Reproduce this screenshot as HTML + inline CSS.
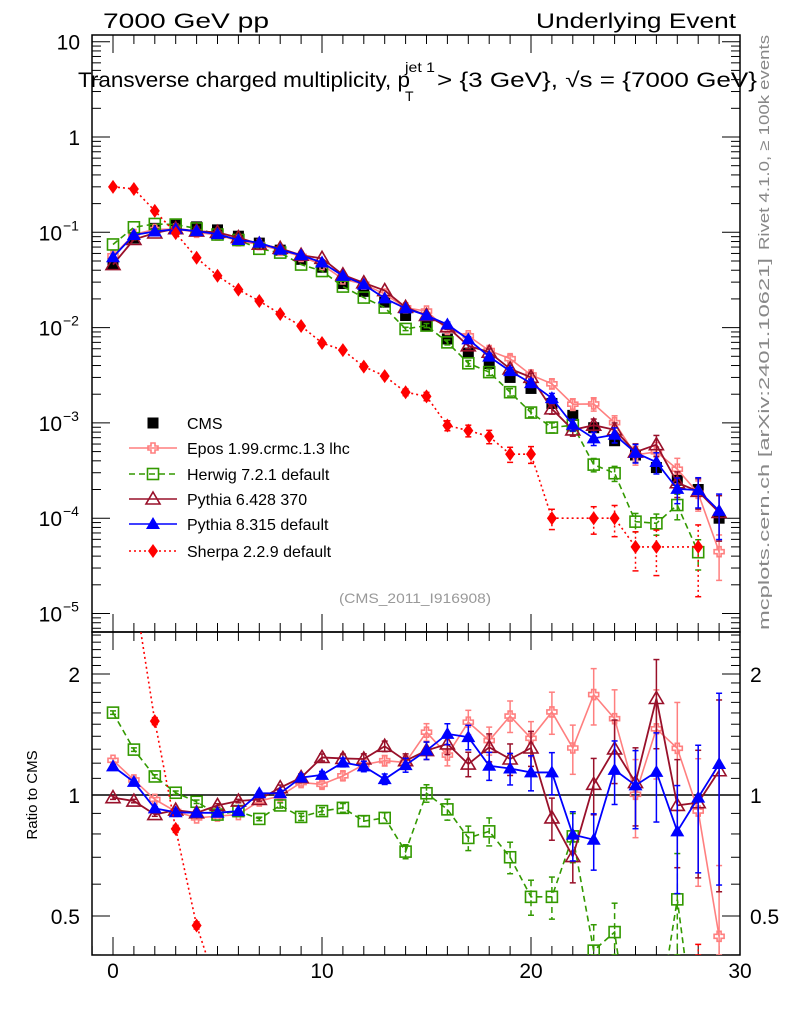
<!DOCTYPE html>
<html><head><meta charset="utf-8"><style>
html,body{margin:0;padding:0;background:#fff;width:786px;height:1024px;overflow:hidden;}
svg{display:block;font-family:"Liberation Sans",sans-serif;}
</style></head><body>
<svg id="c" width="786" height="1024" viewBox="0 0 786 1024">
<defs>
<clipPath id="clipMain"><rect x="92" y="35" width="648" height="597"/></clipPath>
<clipPath id="clipRatio"><rect x="92" y="632" width="648" height="323"/></clipPath>
</defs>
<g id="axes"></g>
<g id="mainMarks" clip-path="url(#clipMain)"></g>
<g id="ratioMarks" clip-path="url(#clipRatio)"></g>
<g id="legend"></g>
<text x="103" y="28" font-size="21" textLength="166" lengthAdjust="spacingAndGlyphs">7000 GeV pp</text>
<text x="736" y="28" font-size="21" text-anchor="end" textLength="200" lengthAdjust="spacingAndGlyphs">Underlying Event</text>
<text x="78" y="87" font-size="21" textLength="332" lengthAdjust="spacingAndGlyphs">Transverse charged multiplicity, p</text>
<text x="405" y="72" font-size="14" textLength="30" lengthAdjust="spacingAndGlyphs">jet 1</text>
<text x="405" y="101" font-size="14">T</text>
<text x="437" y="87" font-size="21" textLength="320" lengthAdjust="spacingAndGlyphs">&gt; {3 GeV}, √s = {7000 GeV}</text>
<text transform="translate(769,250) rotate(-90)" font-size="15" fill="#888" textLength="215" lengthAdjust="spacingAndGlyphs">Rivet 4.1.0, ≥ 100k events</text>
<text transform="translate(769,630) rotate(-90)" font-size="15" fill="#888" textLength="372" lengthAdjust="spacingAndGlyphs">mcplots.cern.ch [arXiv:2401.10621]</text>
<text x="415" y="603" font-size="14" fill="#999" text-anchor="middle" textLength="152" lengthAdjust="spacingAndGlyphs">(CMS_2011_I916908)</text>
<text transform="translate(37,795) rotate(-90)" font-size="15" text-anchor="middle">Ratio to CMS</text>
</svg>
<script>
const xs = [0,1,2,3,4,5,6,7,8,9,10,11,12,13,14,15,16,17,18,19,20,21,22,23,24,25,26,27,28,29];
const cms = [0.0465,0.087,0.11,0.119,0.114,0.106,0.091,0.077,0.065,0.052,0.043,0.029,0.024,0.0185,0.0134,0.0104,0.0076,0.0054,0.0042,0.003,0.0023,0.0016,0.0012,0.00089,0.00065,0.00046,0.00034,0.00025,0.0002,0.0001];
const eposRatio = [1.22,1.09,0.975,0.91,0.877,0.886,0.894,0.966,0.994,1.074,1.063,1.116,1.19,1.217,1.205,1.433,1.257,1.518,1.366,1.572,1.384,1.609,1.309,1.778,1.548,1.004,1.461,1.307,0.912,0.445];
const herwigRatio = [1.603,1.297,1.112,1.013,0.962,0.894,0.912,0.872,0.942,0.882,0.912,0.929,0.861,0.877,0.723,1.01,0.921,0.782,0.812,0.70,0.558,0.558,0.789,0.41,0.456,0.2,0.26,0.55,0.22,null];
const py6Ratio = [0.985,0.966,0.894,0.917,0.903,0.942,0.966,0.975,1.043,1.105,1.24,1.233,1.229,1.322,1.217,1.29,1.34,1.194,1.314,1.229,1.309,0.877,0.703,1.063,1.302,1.074,1.738,0.942,0.957,1.149];
const py8Ratio = [1.178,1.078,0.926,0.906,0.903,0.903,0.912,1.01,1.01,1.105,1.122,1.205,1.178,1.095,1.187,1.29,1.419,1.393,1.182,1.164,1.138,1.138,0.797,0.774,1.155,1.057,1.142,0.812,0.985,1.194];
const sherpa = [0.3,0.285,0.168,0.098,0.054,0.035,0.025,0.019,0.0139,0.0104,0.0069,0.0058,0.0039,0.0031,0.0021,0.0019,0.00094,0.00083,0.00072,0.00047,0.00047,0.0001,null,0.0001,0.0001,0.00005,0.00005,null,0.00005,null];
const mcRelErr = [0.01,0.01,0.01,0.01,0.01,0.01,0.01,0.01,0.015,0.02,0.02,0.025,0.03,0.03,0.04,0.05,0.06,0.07,0.08,0.09,0.1,0.12,0.14,0.16,0.18,0.22,0.25,0.3,0.35,0.5];
const yMajorTicks = [10,1,0.1,0.01,0.001,0.0001,0.00001];
const yMajorLabels = ["10","1","10","10","10","10","10"];
const yMajorExp = ["","","−1","−2","−3","−4","−5"];
const ratioTicks = [2,1,0.5];
const ratioLabels = ["2","1","0.5"];
const xTicks = [0,10,20,30];

const NS="http://www.w3.org/2000/svg";
const L=92,R=740,T=35,MB=632,RB=955;
function X(v){return 113+(v)*20.9;}
function Y(v){return 137-95.3*Math.log10(v);}
function YR(r){return 795-121*Math.log2(r);}
function mk(tag,attrs,parent){const e=document.createElementNS(NS,tag);for(const k in attrs)e.setAttribute(k,attrs[k]);parent.appendChild(e);return e;}
const axes=document.getElementById('axes');
let fr=mk('rect',{x:L,y:T,width:R-L,height:MB-T,fill:'none',stroke:'#000','stroke-width':1.5},axes);


let fr2=mk('rect',{x:L,y:MB,width:R-L,height:RB-MB,fill:'none',stroke:'#000','stroke-width':1.5},axes);


for(let v=-1;v<=30;v++){
  const major=v%10===0, len=major?18:9;
  const x=X(v);
  [[MB,-1],[T,1],[RB,-1],[MB,1]].forEach(([y0,d])=>{
    mk('line',{x1:x,x2:x,y1:y0,y2:y0+d*len,stroke:'#000','stroke-width':1},axes);
  });
}
xTicks.forEach(v=>{
  const t=mk('text',{x:X(v),y:978,'font-size':21,'text-anchor':'middle'},axes);
  t.textContent=String(v);
  
  
});
for(let d=-6;d<=1;d++){
  for(let m=1;m<=9;m++){
    const v=m*Math.pow(10,d);const y=Y(v);
    if(y<T||y>MB)continue;
    const len=m===1?18:9;
    mk('line',{x1:L,x2:L+len,y1:y,y2:y,stroke:'#000','stroke-width':1},axes);
    mk('line',{x1:R,x2:R-len,y1:y,y2:y,stroke:'#000','stroke-width':1},axes);
  }
}
yMajorTicks.forEach((v,i)=>{
  const t=mk('text',{x:yMajorExp[i]?62:80,y:Y(v)+8,'font-size':21,'text-anchor':'end'},axes);
  t.textContent=yMajorLabels[i];
  
  
  if(yMajorExp[i]){
    const e=mk('text',{x:63,y:Y(v)-2,'font-size':14},axes);
    e.textContent=yMajorExp[i];
    
    
  }
});
for(let r=0.4;r<=2.55;r+=0.1){
  const y=YR(r); if(y<MB||y>RB)continue;
  const maj=Math.abs(r-Math.round(r))<0.01||Math.abs(r-0.5)<0.01;
  const len=maj?18:9;
  mk('line',{x1:L,x2:L+len,y1:y,y2:y,stroke:'#000','stroke-width':1},axes);
  mk('line',{x1:R,x2:R-len,y1:y,y2:y,stroke:'#000','stroke-width':1},axes);
}
ratioTicks.forEach((r,i)=>{
  const t=mk('text',{x:80,y:YR(r)+8,'font-size':21,'text-anchor':'end'},axes);
  t.textContent=ratioLabels[i];
  
  
  const t2=mk('text',{x:750,y:YR(r)+8,'font-size':21},axes);
  t2.textContent=ratioLabels[i];
  
  
});
const one=mk('line',{x1:L,x2:R,y1:YR(1),y2:YR(1),stroke:'#000','stroke-width':1.5},axes);



function marker(type,x,y,color,parent){
  let e;
  if(type==='sq') e=mk('rect',{x:x-5.5,y:y-5.5,width:11,height:11,fill:color},parent);
  else if(type==='osq') e=mk('rect',{x:x-5.5,y:y-5.5,width:11,height:11,fill:'none',stroke:color,'stroke-width':1.6},parent);
  else if(type==='cross'){const a=2,b=5;e=mk('polygon',{points:[[x-a,y-b],[x+a,y-b],[x+a,y-a],[x+b,y-a],[x+b,y+a],[x+a,y+a],[x+a,y+b],[x-a,y+b],[x-a,y+a],[x-b,y+a],[x-b,y-a],[x-a,y-a]].map(p=>p.join(',')).join(' '),fill:'none',stroke:color,'stroke-width':1.6},parent);}
  else if(type==='otri') e=mk('polygon',{points:`${x},${y-7} ${x+7},${y+5} ${x-7},${y+5}`,fill:'none',stroke:color,'stroke-width':1.6},parent);
  else if(type==='tri') e=mk('polygon',{points:`${x},${y-7} ${x+7},${y+5} ${x-7},${y+5}`,fill:color},parent);
  else if(type==='dia') e=mk('polygon',{points:`${x},${y-7} ${x+5},${y} ${x},${y+7} ${x-5},${y}`,fill:color},parent);
  return e;
}
const series=[
  {name:'Epos 1.99.crmc.1.3 lhc',key:'epos',color:'#ff7f7f',dash:'',m:'cross',ratio:eposRatio},
  {name:'Herwig 7.2.1 default',key:'herwig',color:'#339900',dash:'6,4',m:'osq',ratio:herwigRatio},
  {name:'Pythia 6.428 370',key:'pythia6',color:'#99102a',dash:'',m:'otri',ratio:py6Ratio},
  {name:'Pythia 8.315 default',key:'pythia8',color:'#0000ff',dash:'',m:'tri',ratio:py8Ratio},
  {name:'Sherpa 2.2.9 default',key:'sherpa',color:'#ff0000',dash:'2,3',m:'dia',ratio:null}
];
const mainG=document.getElementById('mainMarks'), ratG=document.getElementById('ratioMarks');
function drawSeries(s){
  const vals=xs.map((x,i)=>s.ratio?(s.ratio[i]==null?null:cms[i]*s.ratio[i]):sherpa[i]);
  const rats=xs.map((x,i)=>vals[i]==null?null:vals[i]/cms[i]);
  [[mainG,vals,Y,MB],[ratG,rats,YR,RB]].forEach(([g,arr,fy,bot],pi)=>{
    const grp=mk('g',{},g);
    
    
    const pts=[];xs.forEach((x,i)=>{if(arr[i]!=null)pts.push([X(x),fy(arr[i])]);});
    const pl=mk('polyline',{points:pts.map(p=>p.join(',')).join(' '),fill:'none',stroke:s.color,'stroke-width':s.key==='pythia6'||s.key==='pythia8'?1.8:1.6,'stroke-dasharray':s.dash},grp);
    
    
    xs.forEach((x,i)=>{
      if(arr[i]==null)return;
      const e=s.key==='sherpa'?Math.min(0.95,mcRelErr[i]*2):mcRelErr[i];
      const hi=fy(arr[i]*(1+e)), lo=Math.min(fy(Math.max(arr[i]*(1-e),1e-9)),bot);
      if(hi-lo<-3){
        mk('line',{x1:X(x),x2:X(x),y1:hi,y2:lo,stroke:s.color,'stroke-width':1.5,'stroke-dasharray':s.dash},grp);
        mk('line',{x1:X(x)-3,x2:X(x)+3,y1:hi,y2:hi,stroke:s.color,'stroke-width':1.5},grp);
        mk('line',{x1:X(x)-3,x2:X(x)+3,y1:lo,y2:lo,stroke:s.color,'stroke-width':1.5},grp);
      }
      const m=marker(s.m,X(x),fy(arr[i]),s.color,grp);
      
      
    });
  });
}
(function(){
  const grp=mk('g',{},mainG);
  
  
  xs.forEach((x,i)=>{
    const m=marker('sq',X(x),Y(cms[i]),'#000',grp);
    
    
  });
})();
series.forEach(drawSeries);
const lg=document.getElementById('legend');
const rowsY=[423,448,474,499,524,551];
const cmsM=marker('sq',153,rowsY[0],'#000',lg);


let t0=mk('text',{x:187,y:rowsY[0]+6,'font-size':16},lg);t0.textContent='CMS';


series.forEach((s,i)=>{
  const y=rowsY[i+1];
  const ln=mk('line',{x1:129,x2:177,y1:y,y2:y,stroke:s.color,'stroke-width':1.6,'stroke-dasharray':s.dash},lg);
  
  
  const m=marker(s.m,153,y,s.color,lg);
  
  
  const t=mk('text',{x:187,y:y+6,'font-size':16},lg);t.textContent=s.name;
  
  
});
</script>
</body></html>
